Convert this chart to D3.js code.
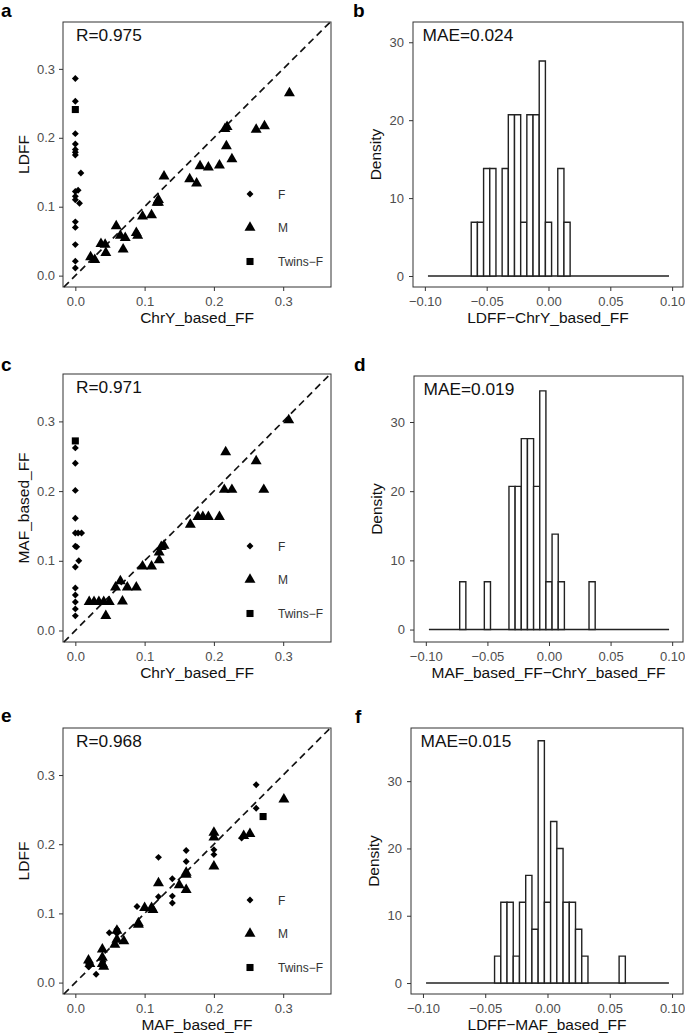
<!DOCTYPE html>
<html lang="en">
  <head>
    <meta charset="utf-8">
    <script src="https://d3js.org/d3.v7.min.js"></script>
    <style>
      body { margin: 0; background: #fff; }
      text { font-family: "Liberation Sans", Arial, sans-serif; }
    </style>
  </head>
  <body>
    <script>
      // ---- data ----
      // panel a: x = ChrY_based_FF, y = LDFF
      var aF = [[0,0.286],[0,0.253],[0,0.206],[0,0.191],[0,0.183],[0,0.179],[0,0.175],[0.008,0.149],
                [0.004,0.124],[0,0.122],[0,0.115],[0,0.110],[0.006,0.105],[0,0.078],[0,0.070],
                [0,0.045],[0,0.021],[0,0.011]];
      var aM = [[0.309,0.265],[0.261,0.212],[0.273,0.217],[0.216,0.213],[0.219,0.216],[0.218,0.188],
                [0.226,0.169],[0.208,0.160],[0.180,0.159],[0.192,0.157],[0.165,0.140],[0.175,0.134],
                [0.128,0.144],[0.120,0.110],[0.118,0.106],[0.110,0.088],[0.097,0.086],[0.088,0.062],
                [0.090,0.058],[0.059,0.072],[0.065,0.058],[0.072,0.055],[0.069,0.038],[0.037,0.046],
                [0.043,0.045],[0.044,0.033],[0.022,0.027],[0.028,0.023],[0.120,0.106]];
      var aT = [[0,0.241]];
      // panel c: x = ChrY_based_FF, y = MAF_based_FF
      var cF = [[0,0.262],[0,0.240],[0,0.201],[0,0.161],[0,0.140],[0.004,0.140],[0.009,0.140],
                [0,0.121],[0.002,0.120],[0.005,0.100],[0,0.091],[0,0.061],[0,0.051],[0,0.041],
                [0,0.031],[0,0.021]];
      var cM = [[0.308,0.302],[0.217,0.256],[0.261,0.243],[0.272,0.202],[0.215,0.202],[0.226,0.202],
                [0.177,0.163],[0.184,0.163],[0.192,0.163],[0.208,0.163],[0.166,0.152],[0.128,0.122],
                [0.124,0.120],[0.121,0.112],[0.121,0.101],[0.110,0.092],[0.097,0.092],[0.088,0.062],
                [0.075,0.062],[0.065,0.071],[0.058,0.062],[0.068,0.042],[0.049,0.041],[0.041,0.041],
                [0.034,0.041],[0.027,0.041],[0.020,0.041],[0.044,0.021]];
      var cT = [[0,0.272]];
      // panel e: x = MAF_based_FF, y = LDFF
      var eF = [[0.261,0.286],[0.261,0.252],[0.120,0.181],[0.160,0.191],[0.160,0.175],[0.140,0.150],
                [0.140,0.125],[0.140,0.115],[0.120,0.124],[0.089,0.110],[0.049,0.072],[0.060,0.077],
                [0.019,0.027],[0.019,0.023],[0.030,0.012],[0.200,0.192],[0.200,0.185],[0.240,0.209],
                [0.060,0.071],[0.040,0.030]];
      var eM = [[0.301,0.265],[0.252,0.215],[0.243,0.212],[0.200,0.217],[0.200,0.210],[0.200,0.168],
                [0.160,0.159],[0.160,0.156],[0.160,0.134],[0.150,0.141],[0.120,0.144],[0.110,0.108],
                [0.100,0.108],[0.112,0.105],[0.091,0.086],[0.091,0.084],[0.070,0.060],[0.060,0.075],
                [0.060,0.062],[0.057,0.055],[0.039,0.048],[0.039,0.036],[0.039,0.027],[0.041,0.023],
                [0.019,0.032],[0.021,0.027]];
      var eT = [[0.271,0.240]];

      // histograms: left edge of each non-empty bin (width 0.005) and its density
      var binWidth = 0.005;
      var histRange = [-0.0975, 0.0975];
      var bEdges = [-0.0625,-0.0575,-0.0525,-0.0475,-0.0375,-0.0325,-0.0275,-0.0225,-0.0175,-0.0125,-0.0075,-0.0025,0.0075,0.0125];
      var bDens  = [6.9,6.9,13.8,13.8,13.8,20.7,20.7,6.9,20.7,20.7,27.6,6.9,13.8,6.9];
      var dEdges = [-0.0725,-0.0525,-0.0325,-0.0275,-0.0225,-0.0175,-0.0125,-0.0075,-0.0025,0.0025,0.0075,0.0325];
      var dDens  = [6.9,6.9,20.7,20.7,27.6,27.6,20.7,34.5,6.9,13.8,6.9,6.9];
      var fEdges = [-0.0425,-0.0375,-0.0325,-0.0275,-0.0225,-0.0175,-0.0125,-0.0075,-0.0025,0.0025,0.0075,0.0125,0.0175,0.0225,0.0275,0.0575];
      var fDens  = [4,12,12,4,12,16,8,36,12,24,20,12,12,8,4,4];

      var ffTicks = [0, 0.1, 0.2, 0.3];
      var diffTicks = [-0.10, -0.05, 0, 0.05, 0.10];
      var densTicks = [0, 10, 20, 30];
      var legendLabels = ["F", "M", "Twins\u2212F"];

      // ---- drawing ----
      var svg = d3.select("body").append("svg")
          .attr("width", 685)
          .attr("height", 1036);

      var tickCol = "#4d4d4d", boxCol = "#333";

      var symTri = d3.symbol().type(d3.symbolTriangle).size(52)();
      var symDia = d3.symbol().type(d3.symbolSquare).size(24)();
      var symSq = d3.symbol().type(d3.symbolSquare).size(50)();

      function styleAxis(g, size) {
        g.select(".domain").remove();
        g.selectAll(".tick line").attr("stroke", boxCol);
        g.selectAll(".tick text").attr("fill", tickCol).style("font-size", size + "px");
      }

      function frame(box, label, lx, ly, xTitle, yTitle, yTitleX) {
        svg.append("rect")
          .attr("x", box[0]).attr("y", box[1])
          .attr("width", box[2] - box[0]).attr("height", box[3] - box[1])
          .attr("fill", "none").attr("stroke", boxCol).attr("stroke-width", 1);
        svg.append("text").attr("x", lx).attr("y", ly)
          .style("font-size", "19px").style("font-weight", "bold").text(label);
        svg.append("text")
          .attr("x", (box[0] + box[2]) / 2).attr("y", box[3] + 36)
          .attr("text-anchor", "middle").style("font-size", "15.5px").attr("fill", "#111")
          .text(xTitle);
        svg.append("text")
          .attr("transform", "translate(" + yTitleX + "," + (box[1] + box[3]) / 2 + ") rotate(-90)")
          .attr("text-anchor", "middle").style("font-size", "15.5px").attr("fill", "#111")
          .text(yTitle);
      }

      function scatter(box, F, M, T, label, ly, xTitle, yTitle, note) {
        var x = d3.scaleLinear().domain([-0.0178, 0.369]).range([box[0], box[2]]);
        var y = d3.scaleLinear().domain([-0.0165, 0.368]).range([box[3], box[1]]);

        frame(box, label, 1, ly, xTitle, yTitle, 29);

        svg.append("g")
          .attr("transform", "translate(0," + box[3] + ")")
          .call(d3.axisBottom(x).tickValues(ffTicks).tickFormat(d3.format(".1f")).tickSize(4).tickPadding(6))
          .call(styleAxis, 13);
        svg.append("g")
          .attr("transform", "translate(" + box[0] + ",0)")
          .call(d3.axisLeft(y).tickValues(ffTicks).tickFormat(d3.format(".1f")).tickSize(4).tickPadding(4))
          .call(styleAxis, 13);

        // identity line
        var lo = -0.0165, hi = 0.368;
        svg.append("line")
          .attr("x1", x(lo)).attr("y1", y(lo))
          .attr("x2", x(hi)).attr("y2", y(hi))
          .attr("stroke", "#111").attr("stroke-width", 1.7)
          .attr("stroke-dasharray", "7,4.5");

        var g = svg.append("g").attr("fill", "#000");
        g.selectAll(".tri").data(M).enter().append("path")
          .attr("d", symTri)
          .attr("transform", function(d) { return "translate(" + x(d[0]) + "," + y(d[1]) + ")"; });
        g.selectAll(".dia").data(F).enter().append("path")
          .attr("d", symDia)
          .attr("transform", function(d) { return "translate(" + x(d[0]) + "," + y(d[1]) + ") rotate(45)"; });
        g.selectAll(".sq").data(T).enter().append("path")
          .attr("d", symSq)
          .attr("transform", function(d) { return "translate(" + x(d[0]) + "," + y(d[1]) + ")"; });

        svg.append("text").attr("x", box[0] + 13).attr("y", box[1] + 18.5)
          .style("font-size", "17.3px").attr("fill", "#111").text(note);

        // legend
        var legY = [172, 205.5, 239.5];
        var syms = [[symDia, 45], [symTri, 0], [symSq, 0]];
        legendLabels.forEach(function(t, i) {
          svg.append("path").attr("d", syms[i][0])
            .attr("transform", "translate(250," + (box[1] + legY[i]) + ") rotate(" + syms[i][1] + ")");
          svg.append("text").attr("x", 278).attr("y", box[1] + legY[i] + 4.5)
            .style("font-size", "12px").attr("fill", "#333").text(t);
        });
      }

      function histogram(box, edges, dens, yDom, label, lx, ly, xTitle, note) {
        var x = d3.scaleLinear().domain([-0.1096, 0.1088]).range([box[0], box[2]]);
        var y = d3.scaleLinear().domain(yDom).range([box[3], box[1]]);

        frame(box, label, lx, ly, xTitle, "Density", box[0] - 32);

        svg.append("g")
          .attr("transform", "translate(0," + box[3] + ")")
          .call(d3.axisBottom(x).tickValues(diffTicks).tickFormat(d3.format(".2f")).tickSize(4).tickPadding(6))
          .call(styleAxis, 13);
        svg.append("g")
          .attr("transform", "translate(" + box[0] + ",0)")
          .call(d3.axisLeft(y).tickValues(densTicks).tickSize(4).tickPadding(5))
          .call(styleAxis, 13);

        // empty bins show as a flat line at zero
        svg.append("line")
          .attr("x1", x(histRange[0])).attr("x2", x(histRange[1]))
          .attr("y1", y(0)).attr("y2", y(0))
          .attr("stroke", "#222").attr("stroke-width", 1.4);

        svg.append("g").selectAll("path")
          .data(edges).enter().append("path")
          .attr("d", function(d, i) {
            var x0 = x(d), x1 = x(d + binWidth), y0 = y(0), y1 = y(dens[i]);
            return "M" + x0 + "," + y0 + "V" + y1 + "H" + x1 + "V" + y0 + "Z";
          })
          .attr("fill", "#fff").attr("stroke", "#222").attr("stroke-width", 1.4);

        svg.append("text").attr("x", box[0] + 9.5).attr("y", box[1] + 18.5)
          .style("font-size", "17.3px").attr("fill", "#111").text(note);
      }

      scatter([63, 22, 331, 287], aF, aM, aT, "a", 17, "ChrY_based_FF", "LDFF", "R=0.975");
      scatter([63, 374, 331, 642], cF, cM, cT, "c", 371, "ChrY_based_FF", "MAF_based_FF", "R=0.971");
      scatter([63, 728, 331, 994], eF, eM, eT, "e", 722, "MAF_based_FF", "LDFF", "R=0.968");

      histogram([413, 22, 683, 287], bEdges, bDens, [-1.41, 32.6], "b", 353, 17,
                "LDFF\u2212ChrY_based_FF", "MAE=0.024");
      histogram([414, 376, 683, 642], dEdges, dDens, [-1.8, 36.65], "d", 354, 371,
                "MAF_based_FF\u2212ChrY_based_FF", "MAE=0.019");
      histogram([411, 728, 683, 994], fEdges, fDens, [-1.63, 37.9], "f", 355, 723,
                "LDFF\u2212MAF_based_FF", "MAE=0.015");
    </script>
  </body>
</html>
